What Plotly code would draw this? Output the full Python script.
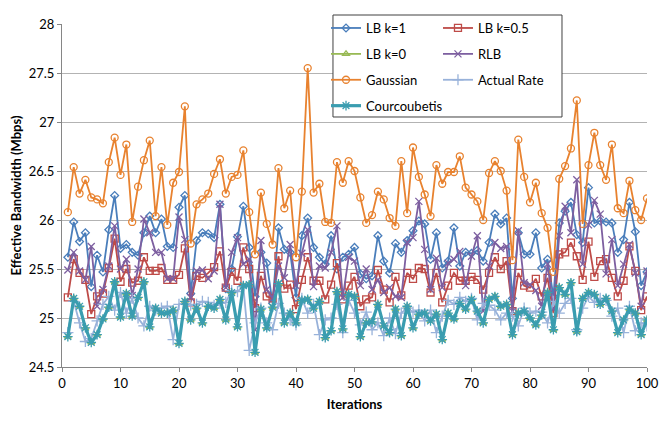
import plotly.graph_objects as go

iterations = list(range(1, 101))

lb_k1 = [25.62, 25.98, 25.78, 25.87, 25.32, 25.64, 25.47, 25.90, 26.25, 25.71,
         25.75, 25.67, 25.64, 25.87, 26.04, 25.87, 26.01, 25.73, 25.72, 26.13,
         26.25, 25.25, 25.79, 25.87, 25.86, 25.82, 26.16, 25.30, 25.50, 25.83,
         26.14, 25.72, 25.22, 25.67, 25.56, 25.15, 25.92, 25.70, 25.67, 25.21,
         25.84, 26.02, 25.72, 25.62, 25.55, 25.84, 25.50, 25.62, 25.65, 25.72,
         25.45, 25.40, 25.43, 25.84, 25.58, 25.46, 25.76, 25.67, 25.79, 25.89,
         25.99, 25.96, 25.60, 25.87, 25.51, 25.58, 25.92, 25.53, 25.67, 25.66,
         25.69, 25.58, 25.77, 26.06, 25.96, 26.02, 25.20, 25.87, 25.65, 25.65,
         25.87, 25.51, 25.60, 25.22, 25.97, 26.09, 26.18, 25.85, 25.77, 26.33,
         25.97, 25.99, 25.98, 25.97, 25.67, 25.80, 26.18, 25.88, 25.33, 25.47]

lb_k05 = [25.21, 25.60, 25.46, 25.39, 25.04, 25.22, 25.25, 25.51, 25.81, 25.37,
          25.50, 25.36, 25.38, 25.62, 25.48, 25.48, 25.51, 25.39, 25.39, 25.44,
          25.71, 25.16, 25.43, 25.41, 25.46, 25.52, 25.68, 25.31, 25.47, 25.38,
          25.72, 25.50, 25.10, 25.43, 25.22, 25.20, 25.63, 25.30, 25.34, 25.09,
          25.39, 25.62, 25.38, 25.38, 25.19, 25.34, 25.56, 25.19, 25.33, 25.42,
          25.12, 25.19, 25.21, 25.49, 25.29, 25.16, 25.42, 25.23, 25.46, 25.40,
          25.51, 25.50, 25.26, 25.46, 25.16, 25.33, 25.46, 25.38, 25.38, 25.42,
          25.39, 25.29, 25.46, 25.62, 25.50, 25.58, 25.07, 25.46, 25.33, 25.31,
          25.40, 25.22, 25.41, 25.05, 25.65, 25.67, 25.77, 25.63, 25.39, 25.78,
          25.42, 25.58, 25.60, 25.41, 25.22, 25.38, 25.73, 25.48, 25.08, 25.22]

lb_k0 = [24.81, 25.20, 25.12, 24.90, 24.75, 24.83, 24.99, 25.11, 25.37, 25.01,
         25.25, 25.02, 25.21, 25.37, 24.91, 25.10, 25.05, 25.05, 25.08, 24.74,
         25.17, 24.98, 25.10, 24.95, 25.12, 25.10, 25.19, 24.98, 25.26, 24.91,
         25.33, 25.34, 24.65, 25.09, 24.90, 25.11, 25.35, 24.95, 25.05, 24.95,
         25.18, 25.19, 25.10, 25.17, 24.80, 24.87, 25.27, 24.89, 25.24, 25.22,
         24.81, 24.95, 24.96, 25.14, 24.92, 24.85, 25.09, 24.82, 25.12, 24.90,
         25.04, 25.05, 24.97, 25.04, 24.78, 25.05, 24.99, 25.15, 25.09, 25.19,
         25.07, 24.95, 25.19, 25.22, 25.12, 25.14, 24.83, 25.05, 25.07, 25.00,
         24.93, 25.03, 25.26, 24.88, 25.31, 25.24, 25.36, 24.86, 25.20, 25.26,
         25.24, 25.14, 25.20, 25.07, 24.85, 24.98, 25.09, 25.05, 24.83, 24.98]

rlb = [25.49, 25.67, 25.48, 25.39, 25.73, 25.12, 25.29, 25.53, 25.94, 25.50,
       25.60, 25.23, 25.50, 26.01, 25.87, 25.67, 25.67, 25.40, 25.40, 26.03,
       25.80, 25.21, 25.48, 25.49, 25.40, 25.48, 26.16, 25.31, 25.67, 25.82,
       25.55, 25.60, 24.88, 25.79, 25.29, 25.20, 25.53, 25.41, 25.75, 25.33,
       25.66, 25.90, 25.32, 25.53, 25.51, 25.67, 25.94, 25.21, 25.62, 25.58,
       25.33, 25.50, 25.29, 25.39, 25.26, 25.31, 25.22, 25.21, 25.77, 25.82,
       26.19, 25.70, 25.29, 25.61, 25.31, 25.56, 25.60, 25.68, 25.33, 25.63,
       25.84, 25.07, 25.53, 25.77, 25.71, 25.73, 25.07, 25.89, 25.36, 25.34,
       25.28, 25.12, 25.55, 25.09, 25.84, 26.14, 25.87, 26.41, 25.55, 25.95,
       26.20, 26.06, 25.45, 25.80, 25.33, 25.55, 25.75, 25.46, 25.12, 25.48]

gaussian = [26.08, 26.54, 26.27, 26.41, 26.23, 26.21, 26.17, 26.59, 26.84, 26.46,
            26.77, 25.98, 26.34, 26.61, 26.81, 26.04, 26.54, 25.95, 26.38, 26.49,
            27.16, 25.76, 26.16, 26.21, 26.27, 26.47, 26.62, 26.27, 26.44, 26.46,
            26.71, 26.08, 25.65, 26.28, 25.96, 25.75, 26.53, 26.12, 26.30, 25.62,
            26.29, 27.55, 26.28, 26.37, 25.98, 25.97, 26.59, 26.38, 26.60, 26.50,
            26.23, 25.97, 26.05, 26.29, 26.21, 26.02, 25.94, 26.60, 26.07, 26.74,
            26.44, 26.26, 26.04, 26.56, 26.37, 26.49, 26.49, 26.65, 26.33, 26.26,
            26.19, 26.00, 26.48, 26.60, 26.50, 26.30, 25.59, 26.82, 26.44, 26.18,
            26.38, 26.07, 25.92, 25.47, 26.42, 26.55, 26.73, 27.22, 25.96, 26.56,
            26.89, 26.56, 26.41, 26.77, 26.12, 26.07, 26.40, 26.10, 26.00, 26.22]

actual_rate = [24.85, 25.17, 24.95, 24.76, 24.79, 24.97, 25.14, 25.22, 25.08, 25.26,
               25.05, 25.20, 25.00, 24.92, 25.12, 25.08, 25.10, 25.12, 24.78, 25.14,
               25.15, 25.13, 25.14, 25.17, 25.16, 25.13, 25.15, 25.16, 25.28, 25.27,
               25.32, 24.67, 24.95, 25.10, 24.95, 24.88, 25.15, 25.05, 24.98, 24.93,
               25.20, 25.05, 25.14, 24.83, 24.98, 25.00, 25.14, 24.85, 25.18, 25.05,
               24.93, 25.06, 24.88, 24.95, 24.82, 25.00, 24.84, 25.05, 25.10, 25.06,
               25.08, 24.97, 25.08, 24.85, 25.02, 25.18, 25.14, 25.21, 25.17, 25.20,
               24.98, 25.15, 25.13, 25.08, 24.98, 25.05, 25.02, 24.92, 25.10, 25.05,
               25.07, 25.06, 24.95, 25.17, 25.05, 25.15, 25.20, 24.88, 25.10, 25.22,
               25.16, 25.20, 25.18, 25.02, 25.10, 24.85, 25.12, 24.87, 24.95, 24.92]

courcoubetis = [24.81, 25.20, 25.12, 24.90, 24.75, 24.83, 24.99, 25.11, 25.37, 25.01,
                25.25, 25.02, 25.21, 25.37, 24.91, 25.10, 25.05, 25.05, 25.08, 24.74,
                25.17, 24.98, 25.10, 24.95, 25.12, 25.10, 25.19, 24.98, 25.26, 24.91,
                25.33, 25.34, 24.65, 25.09, 24.90, 25.11, 25.35, 24.95, 25.05, 24.95,
                25.18, 25.19, 25.10, 25.17, 24.80, 24.87, 25.27, 24.89, 25.24, 25.22,
                24.81, 24.95, 24.96, 25.14, 24.92, 24.85, 25.09, 24.82, 25.12, 24.90,
                25.04, 25.05, 24.97, 25.04, 24.78, 25.05, 24.99, 25.15, 25.09, 25.19,
                25.07, 24.95, 25.19, 25.22, 25.12, 25.14, 24.83, 25.05, 25.07, 25.00,
                24.93, 25.03, 25.26, 24.88, 25.31, 25.24, 25.36, 24.86, 25.20, 25.26,
                25.24, 25.14, 25.20, 25.07, 24.85, 24.98, 25.09, 25.05, 24.83, 24.98]

x_ticks = [0, 10, 20, 30, 40, 50, 60, 70, 80, 90, 100]
y_ticks = [24.5, 25, 25.5, 26, 26.5, 27, 27.5, 28]

FONT = "Lato, 'Open Sans', sans-serif"

series = [
    # name, values, color, symbol, line width, marker size, legend
    ("LB k=1", lb_k1, "#4A7EBB", "diamond-open", 1.8, 6, "legend"),
    ("LB k=0.5", lb_k05, "#BE4B48", "square-open", 1.8, 7, "legend2"),
    ("LB k=0", lb_k0, "#98B954", "triangle-up-open", 1.8, 6, "legend"),
    ("RLB", rlb, "#7D5FA0", "x-thin-open", 1.8, 7, "legend2"),
    ("Gaussian", gaussian, "#E8822F", "circle-open", 1.8, 7, "legend"),
    ("Actual Rate", actual_rate, "#98B2DA", "cross-thin-open", 1.8, 8, "legend2"),
    ("Courcoubetis", courcoubetis, "#3A9DB0", "asterisk-open", 3.2, 8, "legend"),
]

fig = go.Figure()
for i, (name, vals, color, sym, lw, ms, lg) in enumerate(series):
    fig.add_trace(go.Scatter(
        x=iterations, y=vals, name=name, mode="lines+markers",
        line=dict(color=color, width=lw),
        marker=dict(symbol=sym, size=ms, color=color, line=dict(color=color, width=1.3)),
        legend=lg, legendgroup="g%d" % i,
    ))

fig.update_layout(
    width=668, height=422,
    margin=dict(l=54, r=29, t=16, b=63, autoexpand=False),
    paper_bgcolor="white", plot_bgcolor="white",
    font=dict(family=FONT, size=13, color="#000000"),
    xaxis=dict(range=[0, 100], tickvals=x_ticks, showgrid=False, zeroline=False,
               showline=True, linecolor="#868686", linewidth=1,
               ticks="outside", ticklen=4, tickcolor="#868686",
               tickfont=dict(size=13),
               title=dict(text="<b>Iterations</b>", font=dict(size=13), standoff=10)),
    yaxis=dict(range=[24.5, 28], tickvals=y_ticks, showgrid=True, gridcolor="#B3B3B3",
               gridwidth=1, zeroline=False, showline=True, linecolor="#868686", linewidth=1,
               ticks="outside", ticklen=4, tickcolor="#868686",
               tickfont=dict(size=13),
               title=dict(text="<b>Effective Bandwidth (Mbps)</b>", font=dict(size=13), standoff=8)),
    legend=dict(x=0.4513, y=1.032, xanchor="left", yanchor="top", bgcolor="rgba(0,0,0,0)",
                font=dict(size=13), itemwidth=30, tracegroupgap=6),
    legend2=dict(x=0.6427, y=1.032, xanchor="left", yanchor="top", bgcolor="rgba(0,0,0,0)",
                 font=dict(size=13), itemwidth=30, tracegroupgap=6),
    shapes=[
        dict(type="rect", xref="paper", yref="paper", x0=0.4632, x1=0.8547, y0=0.7289, y1=1.0262,
             fillcolor="white", line=dict(color="#404040", width=1), layer="above"),
        dict(type="line", xref="paper", yref="paper", x0=-0.102, x1=1.032, y0=1.052, y1=1.052,
             line=dict(color="#A6A6A6", width=1), layer="below"),
    ],
    showlegend=True,
)

fig.write_html("out.html")
